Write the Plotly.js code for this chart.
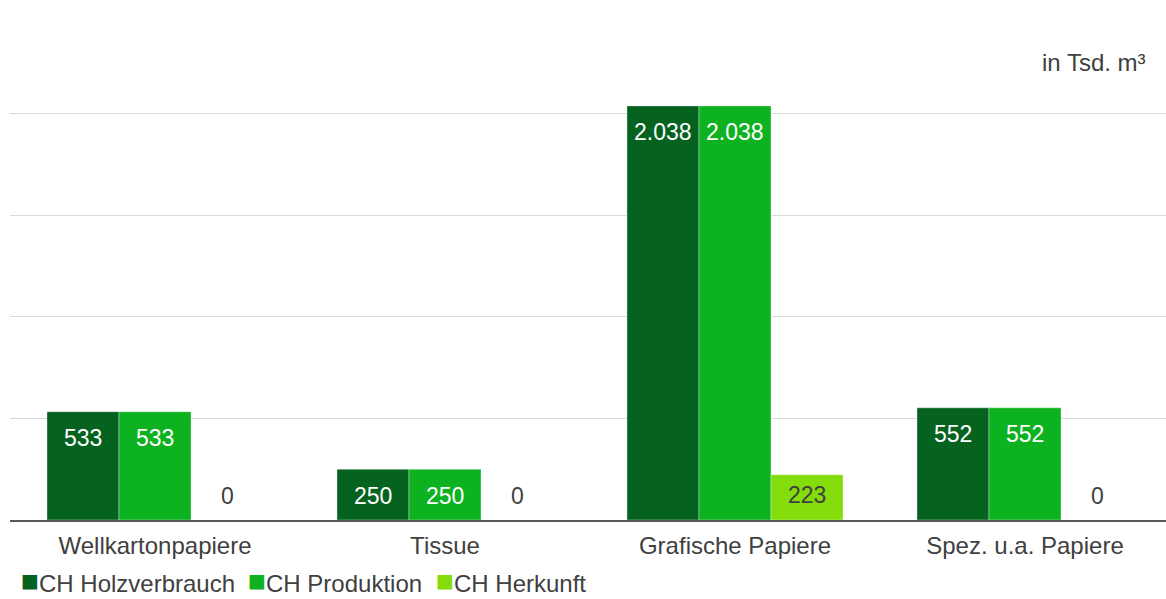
<!DOCTYPE html>
<html>
<head>
<meta charset="utf-8">
<script src="https://cdn.plot.ly/plotly-3.0.1.min.js"></script>
<style>
html,body{margin:0;padding:0;background:#fff;}
#chart{width:1166px;height:599px;}
</style>
</head>
<body>
<div id="chart"></div>
<script>
// ---- data ----
const categories = ["Wellkartonpapiere", "Tissue", "Grafische Papiere", "Spez. u.a. Papiere"];
const seriesNames = ["CH Holzverbrauch", "CH Produktion", "CH Herkunft"];
const holzverbrauch = [533, 250, 2038, 552];
const produktion = [533, 250, 2038, 552];
const herkunft = [0, 0, 223, 0];
const unitLabel = "in Tsd. m³";

// ---- style ----
const colors = ["#05631f", "#0db221", "#84dc0a"];
const labelColors = ["#ffffff", "#ffffff", "#404040"];
const FONT = "Liberation Sans, Arial, sans-serif";
const textGrey = "#404040";

const W = 1166, H = 599;
const margin = {l: 10, r: 0, t: 12, b: 79};
const plotW = W - margin.l - margin.r;
const plotH = H - margin.t - margin.b;
const yMax = 2500;
const pxPerUnit = plotH / yMax;

const allSeries = [holzverbrauch, produktion, herkunft];

function fmt(v) {
  return String(v).replace(/\B(?=(\d{3})+(?!\d))/g, ".");
}

const traces = allSeries.map((vals, i) => ({
  type: "bar",
  name: seriesNames[i],
  x: categories,
  y: vals,
  marker: {color: colors[i], line: {color: "rgba(255,255,255,0.35)", width: 1}},
  hoverinfo: "none",
  showlegend: false
}));

const catUnitPx = 290;
const bargap = 0.255;
const barPx = catUnitPx * (1 - bargap) / 3;

const annotations = [];
allSeries.forEach((vals, i) => {
  vals.forEach((v, j) => {
    const hPx = v * pxPerUnit;
    let yshift;
    if (v === 0) yshift = 24.5;
    else if (hPx < 48) yshift = -hPx / 2 + 2;
    else yshift = -26.5;
    annotations.push({
      x: categories[j], y: v, xref: "x", yref: "y",
      xshift: (i - 1) * barPx, yshift: yshift,
      text: fmt(v), showarrow: false,
      xanchor: "center", yanchor: "middle",
      font: {family: FONT, size: 23, color: v === 0 ? textGrey : labelColors[i]}
    });
  });
});

function px2paperX(px) { return (px - margin.l) / plotW; }
function px2paperY(py) { return (H - margin.b - py) / plotH; }

// unit label
annotations.push({
  x: px2paperX(1148), y: px2paperY(62), xref: "paper", yref: "paper",
  xanchor: "right", yanchor: "middle", showarrow: false,
  text: unitLabel, font: {family: FONT, size: 24, color: textGrey}
});

// legend (custom): colour squares + labels
const legendSquareX = [20, 247, 435];
const legendTextX = [38, 265, 453];
const legendY = 583;
seriesNames.forEach((name, i) => {
  annotations.push({
    x: px2paperX(legendSquareX[i]), y: px2paperY(legendY), xref: "paper", yref: "paper",
    xanchor: "left", yanchor: "middle", showarrow: false, borderpad: 0, yshift: 3,
    text: "■",
    font: {family: "DejaVu Sans", size: 19, color: colors[i]}
  });
  annotations.push({
    x: px2paperX(legendTextX[i]), y: px2paperY(legendY), xref: "paper", yref: "paper",
    xanchor: "left", yanchor: "middle", showarrow: false, borderpad: 0,
    text: name,
    font: {family: FONT, size: 24, color: textGrey}
  });
});

const layout = {
  width: W, height: H,
  margin: margin,
  paper_bgcolor: "#ffffff",
  plot_bgcolor: "#ffffff",
  barmode: "group",
  bargap: bargap,
  bargroupgap: 0,
  showlegend: false,
  xaxis: {
    type: "category",
    range: [-0.5, -0.5 + plotW / catUnitPx],
    showline: true, linecolor: "#595959", linewidth: 2,
    ticks: "outside", ticklen: 3, tickcolor: "rgba(0,0,0,0)",
    tickfont: {family: FONT, size: 24, color: textGrey},
    showgrid: false, zeroline: false, fixedrange: true
  },
  yaxis: {
    range: [0, yMax], dtick: 500, tick0: 0,
    showticklabels: false, ticks: "",
    showgrid: true, gridcolor: "#d9d9d9", gridwidth: 1,
    zeroline: false, showline: false, fixedrange: true
  },
  annotations: annotations,
  font: {family: FONT, color: textGrey}
};

Plotly.newPlot("chart", traces, layout, {displayModeBar: false, staticPlot: true});
</script>
</body>
</html>
